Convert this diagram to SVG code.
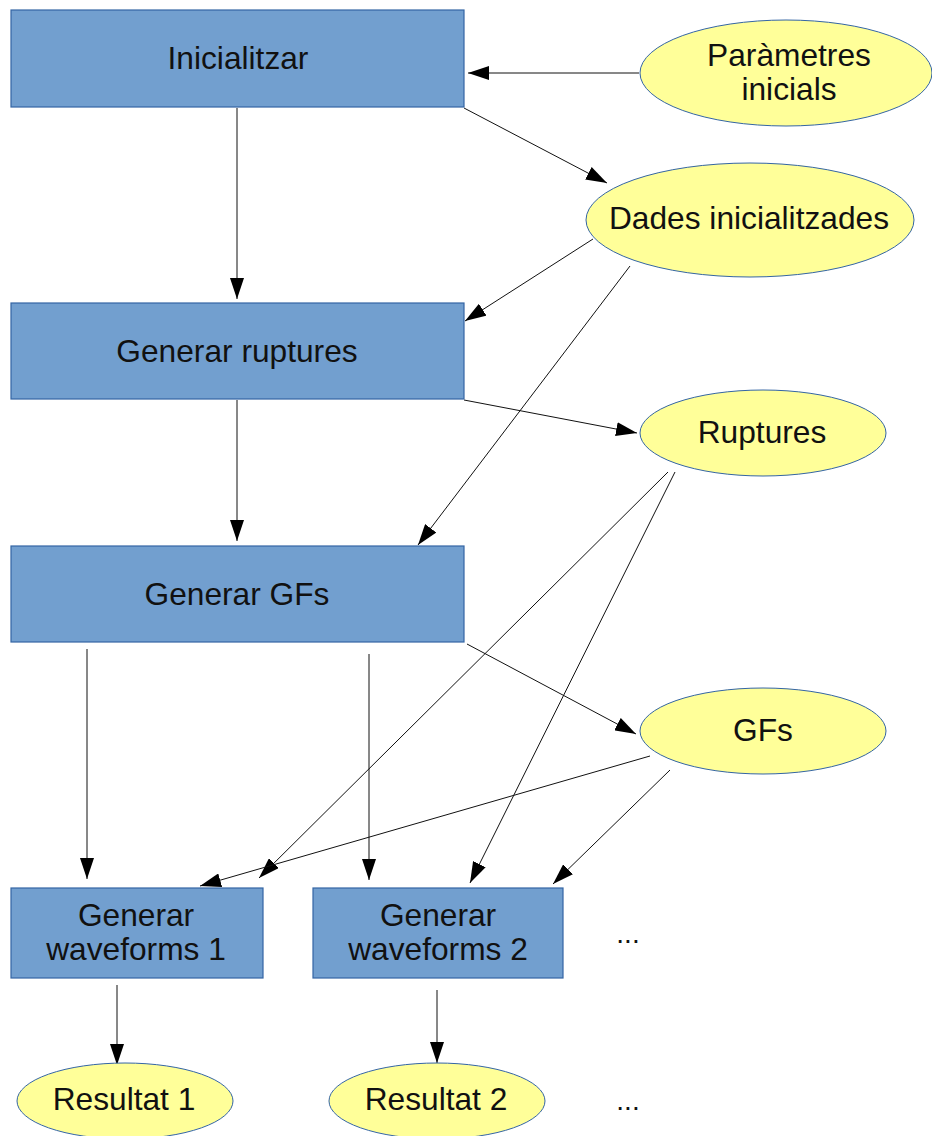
<svg xmlns="http://www.w3.org/2000/svg" width="932" height="1136" viewBox="0 0 932 1136">
<style>
.box{fill:#729fcf;stroke:#3465a4;stroke-width:1.2}
.ell{fill:#ffff99;stroke:#3465a4;stroke-width:1}
.t{font-family:"Liberation Sans",Arial,sans-serif;font-size:31.7px;fill:#111;text-anchor:middle}
.c line{stroke:#111;stroke-width:1;marker-end:url(#ah)}
</style>
<defs>
<marker id="ah" markerUnits="userSpaceOnUse" markerWidth="22" markerHeight="14" refX="21" refY="7" orient="auto">
<path d="M0,0 L21,7 L0,14 z" fill="#000"/>
</marker>
</defs>
<rect width="932" height="1136" fill="#fff"/>
<g class="c" id="connectors">
<line x1="639" y1="73" x2="468" y2="73"/>
<line x1="464" y1="108" x2="607" y2="183"/>
<line x1="237" y1="108" x2="237" y2="299"/>
<line x1="593" y1="239" x2="465" y2="321"/>
<line x1="630" y1="266" x2="418" y2="545"/>
<line x1="464" y1="400" x2="637" y2="433"/>
<line x1="237" y1="400" x2="237" y2="541"/>
<line x1="668" y1="472" x2="259" y2="878"/>
<line x1="675" y1="472" x2="470" y2="883"/>
<line x1="467" y1="644" x2="636" y2="734"/>
<line x1="650" y1="756" x2="200" y2="886"/>
<line x1="670" y1="770" x2="553" y2="884"/>
<line x1="87" y1="649" x2="87" y2="879"/>
<line x1="369" y1="654" x2="369" y2="880"/>
<line x1="117" y1="985" x2="117" y2="1065"/>
<line x1="437" y1="990" x2="437" y2="1063"/>
</g>
<g id="inicialitzar"><rect class="box" x="11" y="10" width="453" height="97"/><text class="t" x="238" y="69">Inicialitzar</text></g>
<g id="generar-ruptures"><rect class="box" x="11" y="303" width="453" height="96"/><text class="t" x="237" y="362">Generar ruptures</text></g>
<g id="generar-gfs"><rect class="box" x="11" y="546" width="453" height="96"/><text class="t" x="237" y="605">Generar GFs</text></g>
<g id="generar-waveforms-1"><rect class="box" x="11" y="888" width="252" height="90"/><text class="t" x="136" y="926">Generar</text><text class="t" x="136" y="960">waveforms 1</text></g>
<g id="generar-waveforms-2"><rect class="box" x="313" y="888" width="250" height="90"/><text class="t" x="438" y="926">Generar</text><text class="t" x="438" y="960">waveforms 2</text></g>
<g id="parametres-inicials"><ellipse class="ell" cx="786" cy="73" rx="146" ry="53"/><text class="t" x="789" y="66">Paràmetres</text><text class="t" x="789" y="100">inicials</text></g>
<g id="dades-inicialitzades"><ellipse class="ell" cx="750" cy="220" rx="164" ry="57"/><text class="t" x="749" y="229">Dades inicialitzades</text></g>
<g id="ruptures"><ellipse class="ell" cx="763" cy="433" rx="123" ry="43"/><text class="t" x="762" y="443">Ruptures</text></g>
<g id="gfs"><ellipse class="ell" cx="763" cy="731" rx="123" ry="43"/><text class="t" x="763" y="741">GFs</text></g>
<g id="resultat-1"><ellipse class="ell" cx="125" cy="1101" rx="108" ry="38"/><text class="t" x="124" y="1110">Resultat 1</text></g>
<g id="resultat-2"><ellipse class="ell" cx="437" cy="1101" rx="108" ry="38"/><text class="t" x="436" y="1110">Resultat 2</text></g>
<g id="ellipsis-1"><text class="t" x="628" y="943" style="font-size:28px">...</text></g>
<g id="ellipsis-2"><text class="t" x="628" y="1110" style="font-size:28px">...</text></g>
</svg>
